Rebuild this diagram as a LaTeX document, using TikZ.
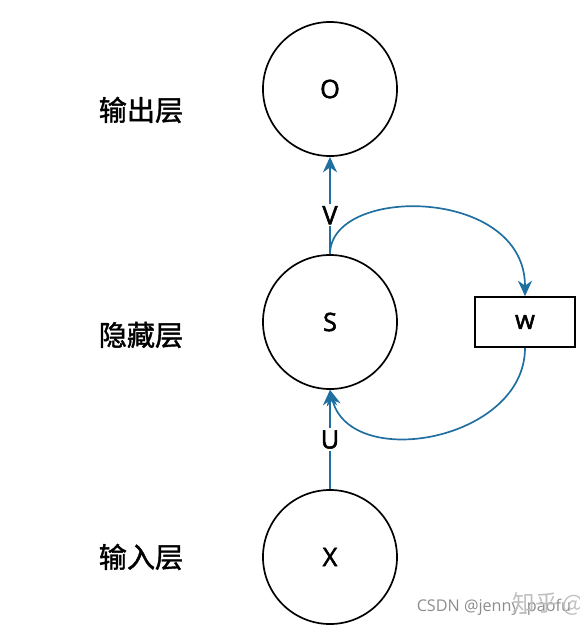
\documentclass[tikz,border=0pt]{standalone}
\usepackage{fontspec}
\setmainfont{Open Sans}
\newfontfamily\lat{Open Sans}[FakeBold=2.2]
\newfontfamily\cjk{Noto Sans CJK SC}[FakeBold=1.5]
\newfontfamily\wmark{Noto Sans CJK SC}
\usetikzlibrary{arrows.meta}
\definecolor{linkblue}{RGB}{31,111,160}
\tikzset{
    neuron/.style={draw, circle, line width=1.2pt, minimum size=3.35cm, inner sep=0pt, font=\lat\fontsize{18}{20}\selectfont},
    weightbox/.style={draw, rectangle, line width=1.2pt, minimum width=2.5cm, minimum height=1.25cm, font=\lat\fontsize{18}{20}\selectfont},
    layer/.style={font=\cjk\fontsize{20}{24}\selectfont},
    link/.style={color=linkblue, line width=1.2pt, -{Stealth[length=11pt,width=10pt,inset=3.5pt]}},
    wlabel/.style={fill=white, inner sep=1.5pt, text=black, font=\lat\fontsize{18}{20}\selectfont},
}

\begin{document}
\begin{tikzpicture}[x=0.025cm,y=-0.025cm]
            \useasboundingbox (0,0) rectangle (580,627);
            \node[neuron] (o) at (330,89) {O};
            \node[neuron] (s) at (330,322) {S};
            \node[neuron] (x) at (330,557) {X};
            \node[weightbox] (w) at (525,322) {w};
            \node[layer] (out) at (141,110) {输出层};
            \node[layer] (hid) at (141,335) {隐藏层};
            \node[layer] (in) at (141,557) {输入层};
            \draw[link] (s) -- node[wlabel, pos=0.4] {V} (o);
            \draw[link] (x) -- node[wlabel] {U} (s);
            \draw[link] (s.north) .. controls +(0,-69) and +(0,-110) .. (w.north);
            \draw[link] (w.south) .. controls +(0,93) and +(20,82) .. (s.south);
            \node[text=black!45, font=\fontsize{11.5}{13}\selectfont, anchor=east] (csdn) at (576,607) {CSDN @jenny\_paofu};
            \node[text=black!25, font=\wmark\fontsize{16}{18}\selectfont, anchor=west] (zhihu) at (508,604) {知乎 @};
        \end{tikzpicture}
\end{document}
